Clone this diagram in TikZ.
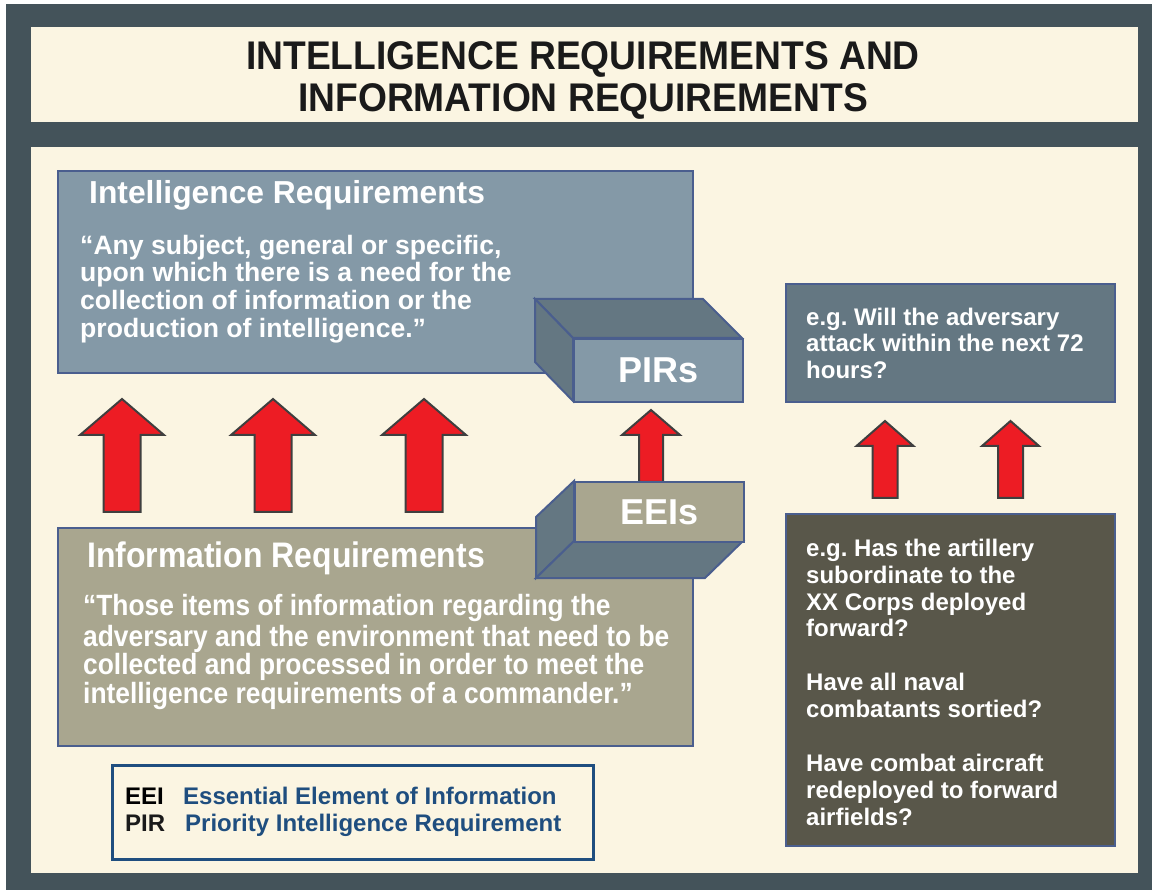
\documentclass[tikz,border=0pt]{standalone}
\usepackage{fontspec}
\setmainfont{Liberation Sans}
\newfontfamily\titlefont[FakeStretch=0.93]{Liberation Sans}
\newfontfamily\narrowfont[FakeStretch=0.9]{Liberation Sans}
\definecolor{frame}{HTML}{44535A}
\definecolor{cream}{HTML}{FBF5E2}
\definecolor{intelfill}{HTML}{8499A7}
\definecolor{slate}{HTML}{647782}
\definecolor{tan}{HTML}{A9A68F}
\definecolor{olive}{HTML}{59574A}
\definecolor{borderblue}{HTML}{4A5E8E}
\definecolor{arrowred}{HTML}{ED1C24}
\definecolor{arrowline}{HTML}{3F3F3F}
\definecolor{legendblue}{HTML}{1F4E7F}
\definecolor{titleblack}{HTML}{1A1A1A}
\newcommand\redblockarrow[6]{\filldraw[redarrow] ({#1-#5},#4) -- ({#1-#5},#3) -- ({#1-#6},#3) -- (#1,#2) -- ({#1+#6},#3) -- ({#1+#5},#3) -- ({#1+#5},#4) -- cycle;}
\frenchspacing
\begin{document}
\begin{tikzpicture}[x=1pt,y=-1pt,
  boxline/.style={draw=borderblue, line width=2pt},
  panel/.style={boxline, anchor=north west, inner sep=0pt},
  redarrow/.style={fill=arrowred, draw=arrowline, line width=2pt, line join=miter},
  wtext/.style={text=white, inner sep=0pt, align=left, anchor=north west},
  htext/.style={text=white, inner sep=0pt, anchor=base west},
  cubetext/.style={text=white, font=\bfseries\fontsize{36}{40}\selectfont}
]
\useasboundingbox (0,0) rectangle (1152,890);
\fill[white] (0,0) rectangle (1152,890);
\fill[frame] (6,4) rectangle (1152,890);
\fill[cream] (31,27) rectangle (1138,122);
\fill[cream] (31,147) rectangle (1138,873);

% title
\node[anchor=north, align=center, inner sep=0pt, text=titleblack,
  font=\titlefont\bfseries\fontsize{40}{42}\selectfont] (title) at (583,39.6)
  {\strut INTELLIGENCE REQUIREMENTS AND\\INFORMATION REQUIREMENTS};

% intelligence requirements box
\node[panel, fill=intelfill, minimum width=635pt, minimum height=202pt] (intel) at (57,170) {};
\node[htext, font=\bfseries\fontsize{31.8}{34}\selectfont] (intelhead) at (89,204) {Intelligence Requirements};
\node[wtext, font=\bfseries\fontsize{26.6}{27.8}\selectfont] (inteltext) at (80,234.5)
  {\strut “Any subject, general or specific,\\upon which there is a need for the\\collection of information or the\\production of intelligence.”};

% PIRs cube
\filldraw[boxline, fill=slate] (535,299) -- (703,299) -- (742,338) -- (573,338) -- cycle;
\filldraw[boxline, fill=slate] (535,299) -- (573,338) -- (573,401) -- (535,362) -- cycle;
\node[panel, fill=intelfill, minimum width=169pt, minimum height=63pt] (pirbox) at (573,338) {};
\node[cubetext] (pirs) at (pirbox.center) {PIRs};

% information requirements box
\node[panel, fill=tan, minimum width=635pt, minimum height=218pt] (info) at (57,527) {};
\node[htext, font=\narrowfont\bfseries\fontsize{35.5}{38}\selectfont] (infohead) at (87,567) {Information Requirements};
\node[wtext, font=\narrowfont\bfseries\fontsize{29.3}{28.8}\selectfont] (infotext) at (83,593.8)
  {\strut “Those items of information regarding the\\adversary and the environment that need to be\\collected and processed in order to meet the\\intelligence requirements of a commander.”};

% arrows
\redblockarrow{122}{399}{435}{512}{18.5}{42}
\redblockarrow{273}{399}{435}{512}{18.5}{42}
\redblockarrow{424}{399}{435}{512}{18.5}{42}
\redblockarrow{651}{410}{435}{482}{12}{29}
\redblockarrow{885}{421}{446}{498}{12.5}{28.5}
\redblockarrow{1010.5}{421}{446}{498}{12.5}{28.5}

% EEIs cube
\filldraw[boxline, fill=slate] (574,481) -- (536,517) -- (536,578) -- (574,541) -- cycle;
\filldraw[boxline, fill=slate] (574,541) -- (743,541) -- (705,578) -- (536,578) -- cycle;
\node[panel, fill=tan, minimum width=169pt, minimum height=60pt] (eeibox) at (574,481) {};
\node[cubetext] (eeis) at (eeibox.center) {EEIs};

% right boxes
\node[panel, fill=slate, minimum width=329pt, minimum height=118pt] (pirex) at (785,283) {};
\node[wtext, font=\bfseries\fontsize{24}{26.7}\selectfont] (pirextext) at (806,306.3)
  {\strut e.g. Will the adversary\\attack within the next 72\\hours?};
\node[panel, fill=olive, minimum width=329pt, minimum height=332pt] (eeiex) at (785,513) {};
\node[wtext, font=\bfseries\fontsize{24}{26.9}\selectfont] (eeiq1) at (806,537.2)
  {\strut e.g. Has the artillery\\subordinate to the\\XX Corps deployed\\forward?};
\node[wtext, font=\bfseries\fontsize{24}{26.9}\selectfont] (eeiq2) at (806,671.2)
  {\strut Have all naval\\combatants sortied?};
\node[wtext, font=\bfseries\fontsize{24}{26.9}\selectfont] (eeiq3) at (806,752.2)
  {\strut Have combat aircraft\\redeployed to forward\\airfields?};

% legend
\node[draw=legendblue, line width=2.5pt, fill=cream, anchor=north west, inner sep=0pt,
  minimum width=481pt, minimum height=94pt] (legend) at (111,764) {};
\node[anchor=base west, inner sep=0pt, font=\bfseries\fontsize{24}{27}\selectfont] (eeiabbr) at (125,804) {EEI};
\node[anchor=base west, inner sep=0pt, text=legendblue, font=\bfseries\fontsize{24}{27}\selectfont] (eeifull) at (183,804) {Essential Element of Information};
\node[anchor=base west, inner sep=0pt, text=titleblack, font=\bfseries\fontsize{24}{27}\selectfont] (pirabbr) at (125,831) {PIR};
\node[anchor=base west, inner sep=0pt, text=legendblue, font=\bfseries\fontsize{24}{27}\selectfont] (pirfull) at (185,831) {Priority Intelligence Requirement};
\end{tikzpicture}
\end{document}
